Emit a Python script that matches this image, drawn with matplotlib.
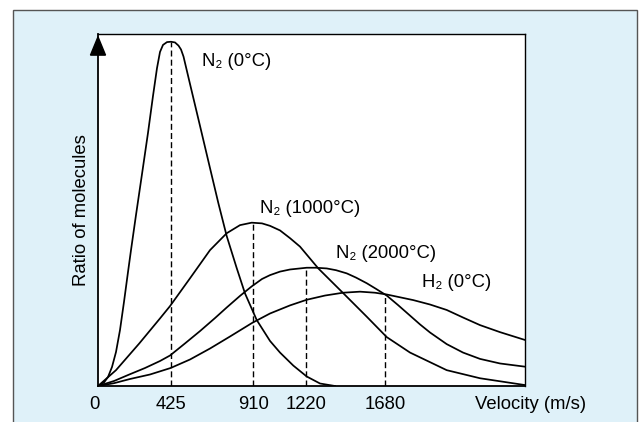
import numpy as np
import matplotlib
matplotlib.use('Agg')
import matplotlib.pyplot as plt
import matplotlib.transforms as mtransforms
from matplotlib.patches import Rectangle, Polygon

plt.rcParams['font.family'] = ['Liberation Sans', 'DejaVu Sans']

# ─────────────────────────────────────────────
# Data (velocity in m/s, ratio in arbitrary units)
# ─────────────────────────────────────────────
n2_0_v = [0, 35.1, 58.6, 82.0, 105.4, 128.8, 152.2, 175.7, 193.2, 222.5, 257.6,
          292.7, 322.0, 345.4, 363.0, 380.6, 404.0, 427.4, 450.8, 471.3, 486.0,
          500.6, 538.7, 597.2, 655.8, 704.4, 753.5, 812.1, 860.7, 929.2, 1007.1,
          1065.6, 1143.5, 1222.0, 1299.8, 1387.6]
n2_0_r = [0, 0.0099, 0.0256, 0.054, 0.0966, 0.159, 0.239, 0.324, 0.386, 0.486,
          0.602, 0.719, 0.824, 0.903, 0.949, 0.969, 0.977, 0.978, 0.976, 0.967,
          0.956, 0.936, 0.858, 0.739, 0.619, 0.520, 0.426, 0.335, 0.263, 0.1875,
          0.128, 0.095, 0.058, 0.027, 0.0071, 0]

n2_1000_v = [0, 105.4, 241.8, 363.0, 421.6, 538.7, 655.8, 753.5, 831.4, 899.9,
             960.2, 1007.1, 1065.6, 1124.2, 1182.7, 1289.9, 1426.9, 1573.3,
             1690.3, 1826.8, 2041.6, 2236.6, 2498.4]
n2_1000_r = [0, 0.045, 0.121, 0.192, 0.227, 0.306, 0.386, 0.434, 0.457, 0.464,
             0.462, 0.455, 0.442, 0.420, 0.396, 0.334, 0.268, 0.197, 0.139,
             0.095, 0.045, 0.022, 0.0028]

n2_2000_v = [0, 93.7, 183.3, 275.2, 363.0, 421.6, 509.4, 597.2, 685.0, 753.5,
             831.4, 899.9, 960.2, 1007.1, 1065.6, 1124.2, 1182.7, 1222.0, 1276.4,
             1339.0, 1393.5, 1456.2, 1510.6, 1573.3, 1627.7, 1690.3, 1756.5,
             1826.8, 1885.3, 1943.9, 2041.6, 2137.1, 2236.6, 2353.7, 2498.4]
n2_2000_r = [0, 0.0142, 0.0327, 0.0511, 0.071, 0.0866, 0.121, 0.156, 0.193,
             0.223, 0.256, 0.283, 0.304, 0.315, 0.325, 0.331, 0.334, 0.336,
             0.336, 0.334, 0.329, 0.320, 0.308, 0.292, 0.276, 0.257, 0.230,
             0.200, 0.175, 0.152, 0.119, 0.095, 0.077, 0.064, 0.055]

h2_0_v = [0, 93.7, 187.4, 304.5, 425.1, 538.7, 655.8, 772.8, 901.7, 1007.1,
          1124.2, 1222.0, 1329.1, 1434.5, 1534.0, 1621.9, 1690.3, 1768.2,
          1846.1, 1943.9, 2041.6, 2137.1, 2236.6, 2353.7, 2498.4]
h2_0_r = [0, 0.008, 0.0199, 0.0327, 0.0511, 0.0753, 0.1065, 0.1406, 0.179,
          0.206, 0.229, 0.245, 0.257, 0.265, 0.268, 0.265, 0.260, 0.252, 0.244,
          0.2315, 0.216, 0.1946, 0.173, 0.153, 0.131]

tick_v      = [0, 425, 910, 1220, 1680]
tick_labels = ['0', '425', '910', '1220', '1680']

curve_labels = ['N₂ (0°C)', 'N₂ (1000°C)', 'N₂ (2000°C)', 'H₂ (0°C)']
label_v      = [607, 948, 1393, 1897]
label_r      = [0.923, 0.503, 0.375, 0.293]

# ─────────────────────────────────────────────
# Figure
# ─────────────────────────────────────────────
fig = plt.figure(figsize=(6.41, 4.22), dpi=100, facecolor='white')
frame = Rectangle((13/641, -0.05), 624/641, 1.05 - 10/422,
                  transform=fig.transFigure, facecolor='#dff1f9',
                  edgecolor='#555555', lw=1.0, zorder=-10)
fig.add_artist(frame)

ax = fig.add_axes([98/641, 1 - 386/422, 427/641, 352/422])
ax.set_zorder(1)
ax.set_facecolor('white')
ax.set_xlim(0, 2500)
ax.set_ylim(0, 1)

curves = [(n2_0_v, n2_0_r), (n2_1000_v, n2_1000_r),
          (n2_2000_v, n2_2000_r), (h2_0_v, h2_0_r)]
for v, r in curves:
    ax.plot(v, r, color='black', lw=1.25, solid_joinstyle='round')

# dashed guides up to the curve they mark
for tv, (v, r) in zip(tick_v[1:], curves):
    top = np.interp(tv, v, r)
    ax.plot([tv, tv], [0, top], color='black', lw=1.0, dashes=(4.3, 2.3))

for txt, lv, lr in zip(curve_labels, label_v, label_r):
    ax.text(lv, lr, txt, fontsize=13.3, va='center', ha='left')

ax.set_xticks(tick_v)
ax.set_xticklabels(tick_labels, fontsize=13.3)
ax.tick_params(axis='x', length=0, pad=7.5)
ax.set_yticks([])
# the "0" sits a little left of the origin in the original
lbl0 = ax.get_xticklabels()[0]
lbl0.set_transform(lbl0.get_transform() +
                   mtransforms.ScaledTranslation(-4/100, 0, fig.dpi_scale_trans))
ax.text(2535, -0.052, 'Velocity (m/s)', fontsize=13.3, ha='center', va='center')

for side, sp in ax.spines.items():
    sp.set_color('black')
    sp.set_linewidth(1.3 if side in ('left', 'bottom') else 1.0)

# arrow head on the y axis
ax.add_patch(Polygon([(-0.0176, 0.940), (0.0176, 0.940), (0, 0.992)],
                     closed=True, transform=ax.transAxes, facecolor='black',
                     edgecolor='black', clip_on=False, zorder=5))

fig.text(81/641, 1 - 210/422, 'Ratio of molecules', fontsize=13.3,
         rotation=90, ha='center', va='center')

fig.savefig('out.png', dpi=100, facecolor='white')
